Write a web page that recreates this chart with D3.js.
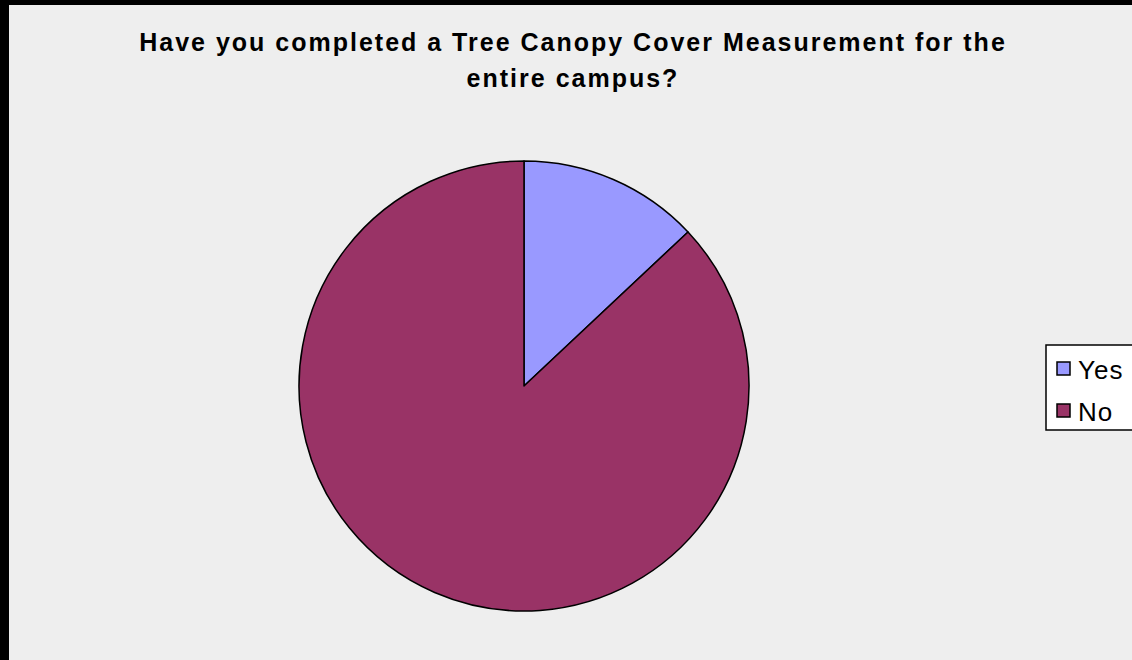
<!DOCTYPE html>
<html><head><meta charset="utf-8">
<script src="https://cdn.jsdelivr.net/npm/d3@7"></script>
<style>html,body{margin:0;padding:0;background:#000;}svg{display:block;}</style>
</head><body>
<script>
const categories = ["Yes", "No"];
const values = [13, 87];
const colors = ["#9999ff", "#993366"];
const titleLines = ["Have you completed a Tree Canopy Cover Measurement for the", "entire campus?"];

const W = 1132, H = 660;
const svg = d3.select("body").append("svg").attr("width", W).attr("height", H);
svg.append("rect").attr("x", 0).attr("y", 0).attr("width", W).attr("height", H).attr("fill", "#000");
svg.append("rect").attr("x", 9).attr("y", 5).attr("width", W - 9).attr("height", H - 5).attr("fill", "#eeeeee");

const title = svg.append("text").attr("text-anchor", "middle")
  .attr("font-family", "Liberation Sans, Arial, sans-serif").attr("font-weight", "bold")
  .attr("font-size", 25).attr("letter-spacing", 2).attr("fill", "#000");
titleLines.forEach((t, i) => title.append("tspan").attr("x", 573).attr("y", 51 + i * 36).text(t));

const cx = 524, cy = 386, r = 225;
const pie = d3.pie().sort(null).value(d => d)(values);
const arc = d3.arc().innerRadius(0).outerRadius(r);
svg.append("g").attr("transform", `translate(${cx},${cy})`)
  .selectAll("path").data(pie).join("path")
  .attr("d", arc).attr("fill", (d, i) => colors[i])
  .attr("stroke", "#000").attr("stroke-width", 1.5).attr("stroke-linejoin", "round");

const lg = svg.append("g");
lg.append("rect").attr("x", 1046).attr("y", 345).attr("width", 90).attr("height", 85)
  .attr("fill", "#fff").attr("stroke", "#000").attr("stroke-width", 1.5);
categories.forEach((c, i) => {
  const y = 369 + i * 42;
  lg.append("rect").attr("x", 1057).attr("y", y - 7).attr("width", 13).attr("height", 13)
    .attr("fill", colors[i]).attr("stroke", "#000").attr("stroke-width", 1.5);
  lg.append("text").attr("x", 1078).attr("y", y + 10).attr("font-family", "Liberation Sans, Arial, sans-serif")
    .attr("font-size", 26).attr("letter-spacing", 1).attr("fill", "#000").text(c);
});
</script>
</body></html>
